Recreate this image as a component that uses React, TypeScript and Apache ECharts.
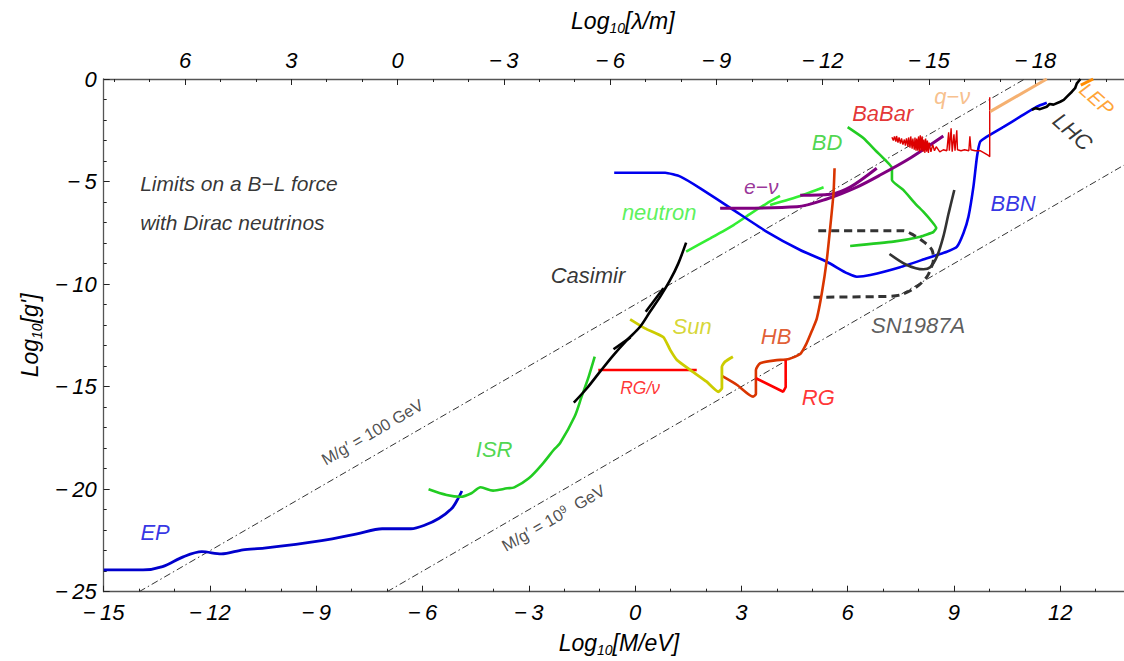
import React, { useEffect, useRef } from 'react';
import * as echarts from 'echarts';

// ---------- data (log10 M/eV , log10 g') ----------
const xTicks = [-15, -12, -9, -6, -3, 0, 3, 6, 9, 12];
const lambdaTicks = [6, 3, 0, -3, -6, -9, -12, -15, -18];
const lambdaMinor = [8, 7, 5, 4, 2, 1, -1, -2, -4, -5, -7, -8, -10, -11, -13, -14, -16, -17, -19, -20];
const LOG_HBARC = -6.705; // log10(ħc in eV·m)

const EP = [[-15, -23.94], [-13.89, -23.94], [-13.34, -23.78], [-12.74, -23.29], [-12.23, -23.05], [-11.68, -23.16], [-11.07, -22.96], [-10.47, -22.88], [-8.85, -22.51], [-7.85, -22.18], [-7.14, -21.93], [-6.33, -21.93], [-5.93, -21.75], [-5.53, -21.42], [-5.17, -20.93], [-5.02, -20.53], [-4.89, -20.09]];
const ISR = [[-5.83, -20.0], [-5.32, -20.28], [-4.92, -20.37], [-4.62, -20.2], [-4.36, -19.91], [-4.01, -20.07], [-3.61, -19.96], [-3.41, -19.91], [-3.0, -19.47], [-2.6, -18.74], [-2.3, -18.09], [-2.12, -17.76], [-1.71, -16.47], [-1.51, -15.49], [-1.31, -14.51], [-1.14, -13.54]];
const CASIMIR = [[-1.73, -15.78], [-1.36, -15.08], [-0.99, -14.27], [-0.61, -13.46], [-0.23, -12.73], [0.14, -12.08], [0.42, -11.35], [0.71, -10.61], [0.99, -9.8], [1.22, -8.99], [1.44, -7.98]];
const CASIMIR_B = [[-0.61, -13.18], [-0.13, -12.6]];
const CASIMIR_C = [[0.3, -11.35], [0.8, -10.2]];
const NEUTRON_A = [[1.44, -8.42], [2.12, -7.77], [2.78, -7.12], [3.25, -6.58], [3.72, -6.06], [4.09, -5.7]];
const NEUTRON_B = [[3.81, -6.14], [4.66, -5.7], [5.32, -5.28]];
const BBN = [[-0.59, -4.57], [0.85, -4.57], [1.28, -4.76], [1.84, -5.33], [2.78, -6.39], [3.72, -7.45], [4.66, -8.34], [5.41, -8.91], [5.98, -9.47], [6.26, -9.64], [6.64, -9.56], [7.48, -9.18], [8.24, -8.74], [8.8, -8.42], [9.08, -8.19], [9.27, -7.51], [9.41, -6.71], [9.55, -5.25], [9.65, -3.79], [9.74, -3.06], [9.93, -2.81], [10.4, -2.33], [10.87, -1.84], [11.34, -1.35], [11.62, -1.16]];
const ENU_A = [[2.4, -6.3], [4.57, -6.23], [5.41, -5.85], [6.26, -5.27], [6.92, -4.68], [7.77, -3.85], [8.7, -2.78]];
const ENU_B = [[4.66, -5.67], [5.51, -5.62], [6.07, -5.27], [6.82, -4.35]];
const BD = [[6.0, -2.35], [6.45, -2.89], [6.8, -3.51], [7.06, -3.95], [7.25, -4.34], [7.25, -4.92], [7.57, -5.41], [7.9, -6.06], [8.14, -6.48], [8.38, -6.96], [8.5, -7.26], [8.42, -7.46], [8.05, -7.69], [7.29, -7.93], [6.07, -8.14]];
const HB = [[2.45, -14.48], [2.88, -14.92], [3.33, -15.49], [3.41, -15.36], [3.41, -14.19], [3.53, -13.86], [3.95, -13.72], [4.34, -13.65], [4.66, -13.41], [4.84, -12.89], [5.0, -12.24], [5.13, -11.67], [5.27, -10.45], [5.41, -8.83], [5.51, -7.2], [5.6, -5.57], [5.63, -4.35]];
const RG = [[3.41, -14.59], [4.18, -15.25], [4.25, -15.02], [4.25, -13.7]];
const RG_NU = [[-1.04, -14.19], [1.74, -14.19]];
const SUN = [[-0.14, -11.72], [0.28, -12.16], [0.8, -12.59], [0.99, -13.21], [1.18, -13.7], [1.56, -14.19], [2.02, -14.76], [2.35, -15.25], [2.45, -15.08], [2.45, -14.03], [2.54, -13.78], [2.76, -13.54]];
const SN_DASHED = [[5.17, -7.4], [7.57, -7.4], [7.86, -7.61], [8.14, -7.93], [8.38, -8.34], [8.42, -8.82], [8.35, -9.23], [8.24, -9.64], [7.95, -10.13], [7.48, -10.53], [6.82, -10.61], [5.02, -10.64]];
const SN_SOLID = [[7.18, -8.53], [7.67, -9.07], [8.14, -9.28], [8.33, -9.18], [8.52, -8.66], [8.7, -7.69], [8.85, -6.55], [9.01, -5.41]];
const BABAR = [[7.25, -2.84], [7.29, -3.0], [7.32, -2.8], [7.36, -3.05], [7.38, -2.78], [7.42, -3.1], [7.45, -2.85], [7.49, -3.15], [7.52, -2.9], [7.56, -3.2], [7.6, -2.95], [7.63, -3.25], [7.66, -2.9], [7.7, -3.3], [7.72, -2.85], [7.76, -3.35], [7.78, -2.8], [7.82, -3.4], [7.84, -2.9], [7.88, -3.45], [7.9, -2.85], [7.93, -3.5], [7.95, -2.9], [7.98, -3.5], [8.0, -2.8], [8.03, -3.55], [8.05, -2.75], [8.08, -3.5], [8.1, -2.8], [8.13, -3.55], [8.15, -2.95], [8.18, -3.6], [8.2, -2.9], [8.23, -3.55], [8.25, -3.0], [8.28, -3.6], [8.3, -3.1], [8.35, -3.55], [8.4, -3.2], [8.45, -3.5], [8.5, -3.3], [8.6, -3.55], [8.7, -3.45], [8.8, -3.5], [8.85, -2.6], [8.87, -3.5], [8.92, -2.4], [8.95, -3.55], [9.0, -2.7], [9.03, -3.5], [9.08, -2.5], [9.1, -3.45], [9.2, -3.5], [9.3, -3.45], [9.42, -3.5], [9.45, -2.8], [9.48, -3.45], [9.6, -3.5], [9.75, -3.5], [9.85, -3.6], [9.97, -3.72], [10.01, -3.79], [10.01, -0.89]];
const QNU = [[10.02, -1.59], [11.62, 0]];
const LHC = [[11.2, -1.51], [11.3, -1.42], [11.43, -1.47], [11.62, -1.35], [11.7, -1.22], [11.81, -1.25], [12.0, -1.11], [12.1, -1.02], [12.19, -0.86], [12.33, -0.62], [12.42, -0.45], [12.47, -0.21], [12.57, 0]];
const LEP = [[12.58, -0.3], [12.93, 0]];
const LINE_100GEV = [[-14, -25], [11, 0]];
const LINE_1E9GEV = [[-7, -25], [13.8, -4.2]];

const labelTexts = ['EP', 'ISR', 'Casimir', 'Sun', 'RG/ν', 'HB', 'RG', 'SN1987A', 'BBN', 'BD', 'BaBar', 'q−ν', 'LEP', 'LHC', 'e−ν', 'neutron'];
const labelAt = [[-13.55, -22.09], [-3.98, -18.09], [-1.33, -9.6], [1.61, -12.09], [0.14, -15.07], [3.98, -12.58], [5.17, -15.55], [7.99, -12.04], [10.67, -6.09], [5.42, -3.12], [6.99, -1.66], [8.95, -0.83], [13.03, -0.98], [12.35, -2.58], [3.56, -5.22], [0.68, -6.53]];
const titleAt = [-13.97, -6.07];
const guideLabelAt = [[-7.42, -17.21], [-2.31, -21.4]];

// ---------- styles ----------
const FONT = '"Liberation Sans", Arial, Helvetica, sans-serif';
const labelColors = ['#0000dd', '#22cc22', '#000000', '#cccc00', '#ff0000', '#d93500', '#ff0000', '#333333', '#0000dd', '#22cc22', '#dd0000', '#f5b070', '#ff8c00', '#000000', '#800080', '#33ee33'];
const labelSizes = [22, 22, 22, 22, 17.5, 22, 22, 22, 22, 22, 22, 22, 20, 22, 21, 22];
const labelRot = [0, 0, 0, 0, 0, 0, 0, 0, 0, 0, 0, 0, -42, -42, 0, 0];

const minus = (s: string) => s.replace(/-/g, '\u2212\u2009');

function line(data: number[][], color: string, width = 2.6, extra: any = {}) {
  return {
    type: 'line',
    data,
    showSymbol: false,
    symbol: 'none',
    silent: true,
    clip: true,
    smooth: extra.smooth ?? 0,
    lineStyle: { color, width, type: extra.type ?? 'solid', cap: 'butt' },
    z: extra.z ?? 3,
  };
}

const axisLineStyle = { color: '#555', width: 1.3 };
const tickStyle = { color: '#222', width: 1 };
const tickLabel = { fontFamily: FONT, fontStyle: 'italic', fontSize: 22, color: '#000' };
const nameRich = {
  b: { fontFamily: FONT, fontStyle: 'italic', fontSize: 23, color: '#000', lineHeight: 28, verticalAlign: 'middle' },
  s: { fontFamily: FONT, fontStyle: 'italic', fontSize: 14, color: '#000', lineHeight: 14, verticalAlign: 'bottom' },
};

function buildOption() {
  const labelData: any[] = labelTexts.map((t, i) => ({
    value: labelAt[i],
    label: {
      formatter: t,
      color: labelColors[i],
      fontSize: labelSizes[i],
      rotate: labelRot[i],
    },
  }));
  labelData.push({
    value: titleAt,
    label: {
      formatter: 'Limits on a B\u2212L force\nwith Dirac neutrinos',
      color: '#000',
      fontSize: 21,
      rotate: 0,
      align: 'left',
      lineHeight: 39,
    },
  });
  labelData.push({
    value: guideLabelAt[0],
    label: { formatter: "{a|M/g\u2032 = 100 GeV}", rotate: 30 },
  });
  labelData.push({
    value: guideLabelAt[1],
    label: { formatter: "{a|M/g\u2032 = 10}{p|9}{a|  GeV}", rotate: 30 },
  });

  const grid = { left: 103.7, top: 79, right: 0, bottom: 69.3, containLabel: false, outerBoundsMode: 'none' };

  return {
    animation: false,
    backgroundColor: '#fff',
    grid: [grid, { ...grid }],
    xAxis: [
      {
        type: 'value', gridIndex: 0, position: 'bottom', min: -15, max: 13.8, interval: 3,
        axisLine: { show: true, onZero: false, lineStyle: axisLineStyle },
        axisTick: { show: true, inside: true, length: 6, lineStyle: tickStyle },
        minorTick: { show: true, splitNumber: 3, length: 3, lineStyle: tickStyle },
        splitLine: { show: false },
        axisLabel: {
          ...tickLabel, margin: 10,
          formatter: (v: number) => (xTicks.includes(Math.round(v * 1000) / 1000) ? minus(String(v)) : ''),
        },
        name: '{b|Log}{s|10}{b|[M/eV]}',
        nameLocation: 'middle', nameGap: 37,
        nameTextStyle: { rich: nameRich, padding: [0, 0, 0, 10] },
      },
      {
        type: 'value', gridIndex: 0, position: 'top', min: -15, max: 13.8,
        axisLine: { show: true, onZero: false, lineStyle: axisLineStyle },
        axisTick: { show: true, inside: true, length: 6, lineStyle: tickStyle, customValues: lambdaTicks.map((l) => LOG_HBARC - l) },
        splitLine: { show: false },
        axisLabel: {
          ...tickLabel, margin: 8,
          customValues: lambdaTicks.map((l) => LOG_HBARC - l),
          formatter: (v: number) => minus(String(Math.round(LOG_HBARC - v))),
        },
        name: '{b|Log}{s|10}{b|[\u03bb/m]}',
        nameLocation: 'middle', nameGap: 44,
        nameTextStyle: { rich: nameRich, padding: [0, 0, 0, 18] },
      },
      {
        type: 'value', gridIndex: 1, position: 'top', min: -15, max: 13.8,
        axisLine: { show: false },
        axisTick: { show: true, inside: true, length: 3, lineStyle: tickStyle, customValues: lambdaMinor.map((l) => LOG_HBARC - l) },
        axisLabel: { show: false },
        splitLine: { show: false },
      },
    ],
    yAxis: [
      {
        type: 'value', gridIndex: 0, position: 'left', min: -25, max: 0, interval: 5,
        axisLine: { show: true, onZero: false, lineStyle: axisLineStyle },
        axisTick: { show: true, inside: true, length: 6, lineStyle: tickStyle },
        minorTick: { show: true, splitNumber: 5, length: 3, lineStyle: tickStyle },
        splitLine: { show: false },
        axisLabel: { ...tickLabel, margin: 7, formatter: (v: number) => minus(String(v)) },
        name: "{b|Log}{s|10}{b|[g']}",
        nameLocation: 'middle', nameGap: 58, nameRotate: 90,
        nameTextStyle: { rich: nameRich },
      },
      {
        type: 'value', gridIndex: 1, min: -25, max: 0, show: false,
      },
    ],
    series: [
      { ...line(LINE_100GEV, '#333', 1, { type: [7, 3, 1.5, 3], z: 1 }) },
      { ...line(LINE_1E9GEV, '#333', 1, { type: [7, 3, 1.5, 3], z: 1 }) },
      line(EP, '#0000cc', 2.8, { smooth: 0.3 }),
      line(ISR, '#22cc22', 2.6, { smooth: 0.3 }),
      line(NEUTRON_A, '#33ee33', 2.6, { smooth: 0.2 }),
      line(NEUTRON_B, '#33ee33', 2.6, { smooth: 0.2 }),
      line(BBN, '#0000ee', 2.6, { smooth: 0.15 }),
      line(BD, '#22cc22', 2.6, { smooth: 0.15 }),
      line(ENU_A, '#800080', 3, { smooth: 0.3 }),
      line(ENU_B, '#800080', 3, { smooth: 0.3 }),
      line(SN_DASHED, '#333333', 3, { smooth: 0.3, type: [8, 5] }),
      line(SN_SOLID, '#333333', 2.6, { smooth: 0.3 }),
      line(HB, '#d93500', 2.6, { smooth: 0.2 }),
      line(RG, '#ff0000', 2.6),
      line(RG_NU, '#ff0000', 2.6),
      line(SUN, '#cccc00', 2.8, { smooth: 0.15 }),
      line(CASIMIR, '#000000', 2.6, { smooth: 0.3 }),
      line(CASIMIR_B, '#000000', 2.6),
      line(CASIMIR_C, '#000000', 2.6),
      line(BABAR, '#dd0000', 1.4),
      line(QNU, '#f5b070', 3),
      line(LHC, '#000000', 2.6),
      line(LEP, '#ff8c00', 3),
      {
        type: 'scatter',
        data: labelData,
        symbolSize: 1,
        itemStyle: { color: 'rgba(0,0,0,0)' },
        silent: true,
        z: 10,
        label: {
          show: true,
          position: 'inside',
          fontFamily: FONT,
          fontStyle: 'italic',
          fontSize: 22,
          rich: {
            a: { fontFamily: FONT, fontStyle: 'normal', fontSize: 16.5, color: '#222' },
            p: { fontFamily: FONT, fontStyle: 'normal', fontSize: 11, color: '#222', verticalAlign: 'top', lineHeight: 11 },
          },
        },
      },
    ],
  };
}

export default function App() {
  const ref = useRef<HTMLDivElement>(null);
  useEffect(() => {
    const chart = echarts.init(ref.current!, null, { renderer: 'svg' });
    chart.setOption(buildOption() as any);
    return () => chart.dispose();
  }, []);
  return (
    <div
      ref={ref}
      style={{ position: 'fixed', left: 0, top: 0, width: 1124, height: 661, background: '#fff' }}
    />
  );
}
